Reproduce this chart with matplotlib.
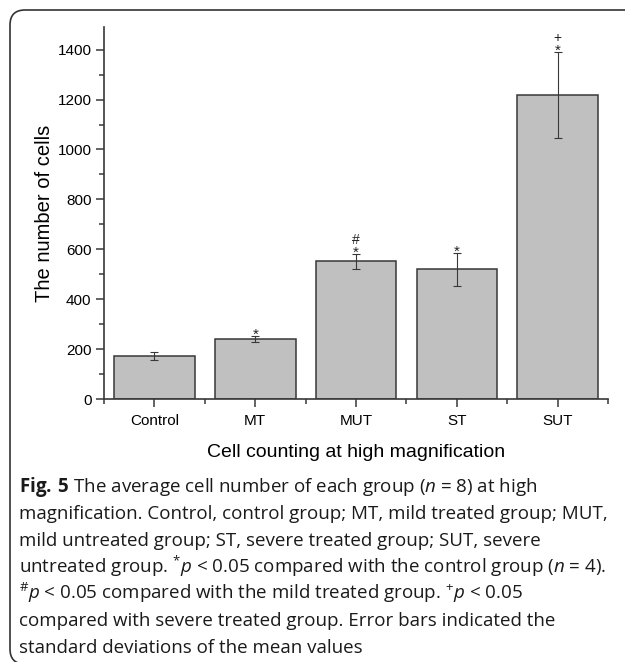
import matplotlib.pyplot as plt
from matplotlib.patches import FancyBboxPatch
from matplotlib.ticker import MultipleLocator, FixedLocator

# data
groups = ["Control", "MT", "MUT", "ST", "SUT"]
means = [173, 243, 552, 520, 1218]
sds = [17, 12, 31, 65, 172]
mark_low = ["", "*", "*", "*", "*"]
mark_high = ["", "", "#", "", "+"]

caption = [
    r"$\mathbf{Fig.\:5}$ The average cell number of each group ($n$ = 8) at high",
    "magnification. Control, control group; MT, mild treated group; MUT,",
    "mild untreated group; ST, severe treated group; SUT, severe",
    r"untreated group. $^{*}p$ < 0.05 compared with the control group ($n$ = 4).",
    r"$^{\#}p$ < 0.05 compared with the mild treated group. $^{+}p$ < 0.05",
    "compared with severe treated group. Error bars indicated the",
    "standard deviations of the mean values",
]

plt.rcParams['font.family'] = ['Liberation Sans', 'DejaVu Sans']
plt.rcParams['mathtext.fontset'] = 'custom'
plt.rcParams['mathtext.rm'] = 'Open Sans'
plt.rcParams['mathtext.it'] = 'Open Sans:italic'
plt.rcParams['mathtext.bf'] = 'Open Sans:bold'

edge = '#383838'

fig = plt.figure(figsize=(6.25, 6.62), dpi=100)
ax = fig.add_axes([0.1664, 0.397, 0.8066, 0.562])

x = list(range(len(groups)))
ax.bar(x, means, width=0.8, color='#c0c0c0', edgecolor=edge, linewidth=1.1,
       yerr=sds, error_kw=dict(ecolor=edge, elinewidth=0.8, capsize=3, capthick=0.8),
       zorder=2)

for i in x:
    top = means[i] + sds[i]
    if mark_low[i]:
        ax.annotate(mark_low[i], xy=(i, top), xytext=(0, -2), textcoords='offset points',
                    ha='center', va='baseline', fontsize=11, color='#222222')
    if mark_high[i]:
        ax.annotate(mark_high[i], xy=(i, top), xytext=(0, 7), textcoords='offset points',
                    ha='center', va='baseline', fontsize=10, color='#222222')

ax.set_xlim(-0.5, 4.5)
ax.set_ylim(0, 1490)
ax.set_xticks(x)
ax.set_xticklabels(groups)
ax.xaxis.set_minor_locator(FixedLocator([-0.5, 0.5, 1.5, 2.5, 3.5, 4.5]))
ax.yaxis.set_major_locator(MultipleLocator(200))
ax.yaxis.set_minor_locator(MultipleLocator(100))
ax.tick_params(which='major', direction='out', length=6, width=1.1, color=edge,
               labelsize=11, pad=3)
ax.tick_params(axis='x', which='major', pad=5)
ax.tick_params(which='minor', direction='out', length=3.5, width=1.1, color=edge)

for s in ['top', 'right']:
    ax.spines[s].set_visible(False)
for s in ['left', 'bottom']:
    ax.spines[s].set_color(edge)
    ax.spines[s].set_linewidth(1.2)

ax.set_ylabel("The number of cells", fontsize=14.5)
ax.set_xlabel("Cell counting at high magnification", fontsize=14)
ax.yaxis.set_label_coords(-0.10, 0.5)
ax.xaxis.set_label_coords(0.5, -0.12)

# rounded frame around figure + caption
frame = FancyBboxPatch((0.1, -0.02), 7.0, 6.54, boxstyle="round,pad=0,rounding_size=0.15",
                       transform=fig.dpi_scale_trans, facecolor='none',
                       edgecolor='#333333', linewidth=1.2)
fig.patches.append(frame)

y0 = 662 - 492
for k, line in enumerate(caption):
    fig.text(19 / 625, (y0 - k * 26.8) / 662, line, fontsize=13.5, family='Open Sans',
             va='baseline', ha='left', color='#1a1a1a')

fig.savefig("out.png", dpi=100)
